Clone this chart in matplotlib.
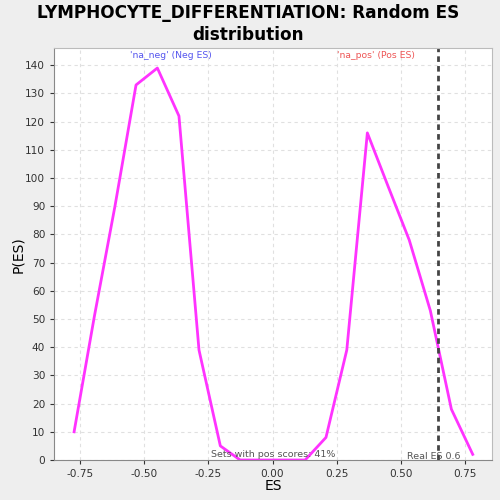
import matplotlib
matplotlib.use("Agg")
import matplotlib.pyplot as plt

plt.rcParams['axes.unicode_minus'] = False
plt.rcParams['font.family'] = ['DejaVu Sans']

es = [-0.772, -0.693, -0.613, -0.531, -0.448, -0.364, -0.286, -0.203, -0.126,
      0.127, 0.208, 0.289, 0.369, 0.450, 0.532, 0.614, 0.696, 0.779]
pes = [10, 51, 90, 133, 139, 122, 39, 5, 0,
       0, 8, 39, 116, 97, 78, 53, 18, 2]
real_es = 0.645
xticks = [-0.75, -0.50, -0.25, 0.00, 0.25, 0.50, 0.75]
yticks = list(range(0, 141, 10))

fig = plt.figure(figsize=(5, 5), dpi=100, facecolor='#EEEEEE')
ax = fig.add_axes([0.1086, 0.08, 0.8754, 0.8234])
ax.set_facecolor('white')
ax.plot(es, pes, color='#FF33FF', lw=2)
ax.axvline(real_es, color='#444444', lw=2, ls=(0, (2, 1.5)))
ax.set_xlim(-0.849, 0.854)
ax.set_ylim(0, 146)
ax.set_xticks(xticks)
ax.set_xticklabels([f"{t:.2f}" for t in xticks])
ax.set_yticks(yticks)
ax.grid(True, color='#E0E0E0', ls=(0, (3, 3)), lw=0.8)
ax.set_axisbelow(True)
for s in ['top', 'right']:
    ax.spines[s].set_color('#BBBBBB')
for s in ['left', 'bottom']:
    ax.spines[s].set_color('#888888')
ax.tick_params(labelsize=7.6, colors='#333333', length=3)
ax.set_xlabel('ES', fontsize=10)
ax.set_ylabel('P(ES)', fontsize=10)
ax.yaxis.set_label_coords(-0.067, 0.5)
ax.xaxis.set_label_coords(0.5, -0.047)
fig.text(0.496, 0.993, 'LYMPHOCYTE_DIFFERENTIATION: Random ES\ndistribution', fontsize=12.2,
         fontweight='bold', ha='center', va='top', linespacing=1.3)
ax.text(-0.397, 145, "'na_neg' (Neg ES)", color='#5555EE', fontsize=6.7, ha='center', va='top')
ax.text(0.403, 145, "'na_pos' (Pos ES)", color='#EE5555', fontsize=6.7, ha='center', va='top')
ax.text(-0.239, 0.3, "Sets with pos scores: 41%", color='#555555', fontsize=6.8, ha='left', va='bottom')
ax.text(0.73, -0.5, "Real ES 0.6", color='#555555', fontsize=6.8, ha='right', va='bottom')
fig.savefig('out.png', dpi=100, facecolor=fig.get_facecolor())
